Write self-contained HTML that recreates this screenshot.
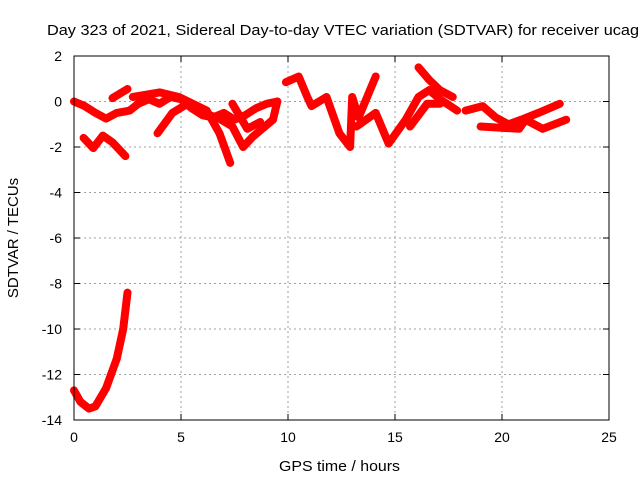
<!DOCTYPE html>
<html><head><meta charset="utf-8"><style>
body{margin:0;background:#fff}
svg text{font-family:"Liberation Sans",sans-serif;font-size:14px;fill:#000}
</style></head><body>
<svg id="c" width="640" height="480" xmlns="http://www.w3.org/2000/svg">
<text x="47" y="35" textLength="592" lengthAdjust="spacingAndGlyphs" style="font-size:15px">Day 323 of 2021, Sidereal Day-to-day VTEC variation (SDTVAR) for receiver ucag</text>
<text x="279" y="471" textLength="121" lengthAdjust="spacingAndGlyphs" style="font-size:15px">GPS time / hours</text>
<text transform="translate(18,238) rotate(-90)" text-anchor="middle" style="font-size:15px">SDTVAR / TECUs</text>
<g id="grid"></g><g id="marks"></g>
<rect x="74" y="56" width="535" height="364" fill="none" stroke="#000" stroke-width="1"/>
</svg>
<script>
const xTicks=[0,5,10,15,20,25];
const yTicks=[2,0,-2,-4,-6,-8,-10,-12,-14];
const trackHours=[
[0,0.5,1,1.5,2,2.6,3,3.5,4,4.5,5,5.5,6,6.5,7,7.5,8,8.5,9,9.5],
[0.45,0.9,1.35,1.8,2.4],
[1.8,2.5],
[2.75,4,4.9,6.2,6.8,7.3],
[3.9,4.6,5.3,5.9,6.7,7.4,7.9,8.35,9.3,9.5],
[7.4,8.1,8.7],
[9.9,10.5,10.9,11.1,11.8,12.4,12.9,13.0,13.3,14.1],
[13.2,14.1,14.7,15.5,16.1,16.6,17.1,17.9],
[16.1,16.6,17.1,17.7],
[15.7,16.5,17.1],
[18.3,19.1,19.7,20.3,20.9,21.7,22.7],
[19,20.8,21.1,21.9,23],
[0,0.3,0.7,1,1.5,2,2.3,2.5]
];
const trackValues=[
[0,-0.2,-0.5,-0.75,-0.5,-0.4,-0.1,0.1,-0.1,0.2,0.1,-0.3,-0.6,-0.7,-0.5,-0.8,-0.6,-0.3,-0.1,0],
[-1.6,-2.05,-1.5,-1.8,-2.4],
[0.15,0.55],
[0.2,0.4,0.2,-0.4,-1.4,-2.7],
[-1.4,-0.5,-0.1,-0.5,-0.7,-1.1,-2.0,-1.55,-0.8,0],
[-0.1,-1.2,-0.9],
[0.85,1.1,0.2,-0.2,0.2,-1.4,-2.0,0.2,-0.7,1.1],
[-1.1,-0.5,-1.85,-0.8,0.2,0.5,0.1,-0.4],
[1.5,0.95,0.5,0.2],
[-1.1,-0.1,-0.1],
[-0.4,-0.2,-0.7,-1.0,-0.8,-0.5,-0.1],
[-1.1,-1.2,-0.8,-1.2,-0.8],
[-12.7,-13.2,-13.5,-13.4,-12.6,-11.3,-10,-8.4]
];
const X=h=>74+h*535/25, Y=v=>56+(2-v)*364/16;
const NS="http://www.w3.org/2000/svg";
const grid=document.getElementById('grid'), marks=document.getElementById('marks');
function mk(t,a,p){const e=document.createElementNS(NS,t);for(const k in a)e.setAttribute(k,a[k]);p.appendChild(e);return e;}
xTicks.forEach(t=>{
 if(t>0&&t<25){const l=mk('line',{x1:X(t),x2:X(t),y1:56,y2:420,stroke:'#a0a0a0','stroke-dasharray':'2,3'},grid);
 
 }
 mk('line',{x1:X(t),x2:X(t),y1:420,y2:414,stroke:'#000'},grid);
 mk('line',{x1:X(t),x2:X(t),y1:56,y2:62,stroke:'#000'},grid);
 const tx=mk('text',{x:X(t),y:442,'text-anchor':'middle'},grid);tx.textContent=t;
 
 
});
yTicks.forEach(t=>{
 if(t<2&&t>-14){const l=mk('line',{x1:74,x2:609,y1:Y(t),y2:Y(t),stroke:'#a0a0a0','stroke-dasharray':'2,3'},grid);
 
 }
 mk('line',{x1:74,x2:80,y1:Y(t),y2:Y(t),stroke:'#000'},grid);
 mk('line',{x1:603,x2:609,y1:Y(t),y2:Y(t),stroke:'#000'},grid);
 const tx=mk('text',{x:62,y:Y(t)+5,'text-anchor':'end'},grid);tx.textContent=t;
 
 
});
trackHours.forEach((hs,i)=>{
 const pts=hs.map((h,j)=>X(h).toFixed(1)+','+Y(trackValues[i][j]).toFixed(1)).join(' ');
 const p=mk('polyline',{points:pts,fill:'none',stroke:'#ff0000','stroke-width':8,'stroke-linejoin':'round','stroke-linecap':'round'},marks);
 
 
});
</script>
</body></html>
